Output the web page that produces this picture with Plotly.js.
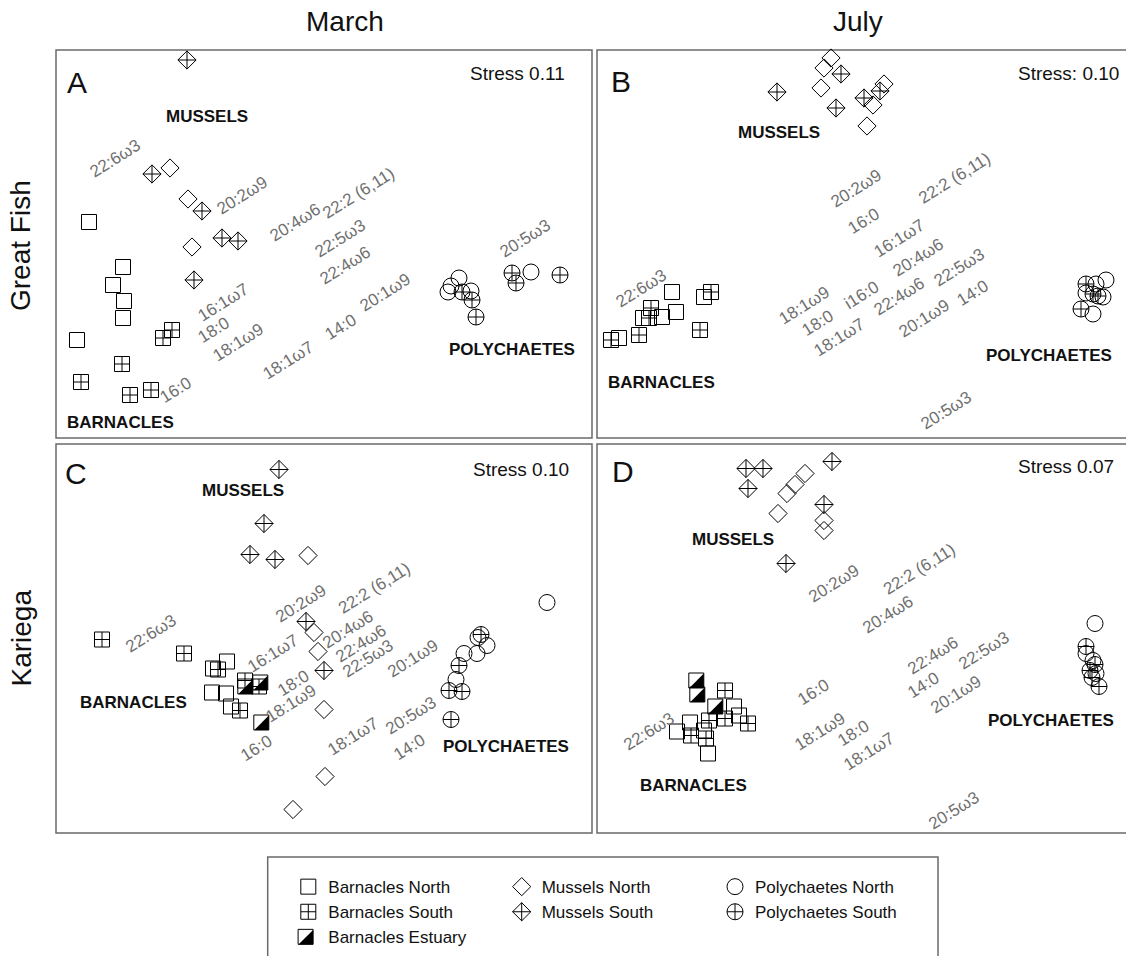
<!DOCTYPE html>
<html>
<head>
<meta charset="utf-8">
<script src="https://cdn.plot.ly/plotly-3.0.1.min.js"></script>
<style>
  html, body { margin: 0; padding: 0; background: #fff; overflow: hidden; }
  #chart { width: 1126px; height: 956px; }
</style>
</head>
<body>
<div id="chart"></div>
<script>
// nMDS ordination scores (dimensionless) of fatty-acid profiles.
// A = Great Fish / March, B = Great Fish / July, C = Kariega / March, D = Kariega / July

const A_barnaclesNorth   = [[-2.35,0.22],[-2.01,-0.23],[-2.11,-0.41],[-2.00,-0.57],[-2.01,-0.74],[-2.47,-0.96]];
const A_barnaclesSouth   = [[-1.61,-0.94],[-1.52,-0.86],[-2.02,-1.20],[-2.43,-1.38],[-1.94,-1.51],[-1.73,-1.46]];
const A_musselsNorth     = [[-1.54,0.76],[-1.36,0.45],[-1.32,-0.03]];
const A_musselsSouth     = [[-1.37,1.84],[-1.72,0.70],[-1.22,0.33],[-1.02,0.06],[-0.86,0.03],[-1.30,-0.36]];
const A_polychaetesNorth = [[1.35,-0.34],[1.27,-0.42],[1.24,-0.48],[1.47,-0.47],[2.07,-0.28]];
const A_polychaetesSouth = [[1.38,-0.48],[1.48,-0.56],[1.52,-0.73],[1.88,-0.29],[1.92,-0.39],[2.36,-0.31]];

const B_barnaclesNorth   = [[-1.93,-0.48],[-1.89,-0.68],[-2.03,-0.73],[-2.22,-0.74],[-1.61,-0.53],[-2.46,-0.94]];
const B_barnaclesSouth   = [[-2.14,-0.64],[-2.16,-0.74],[-1.54,-0.48],[-2.26,-0.91],[-1.65,-0.86],[-2.54,-0.96]];
const B_musselsNorth     = [[-0.34,1.86],[-0.41,1.76],[-0.44,1.56],[0.19,1.60],[0.08,1.39],[0.02,1.18]];
const B_musselsSouth     = [[-0.88,1.52],[-0.24,1.70],[-0.29,1.36],[-0.01,1.46],[0.15,1.53]];
const B_polychaetesNorth = [[2.41,-0.36],[2.31,-0.40],[2.38,-0.53],[2.28,-0.70],[2.21,-0.49]];
const B_polychaetesSouth = [[2.21,-0.40],[2.28,-0.50],[2.16,-0.65],[2.33,-0.52]];

const C_barnaclesNorth   = [[-0.97,-0.23],[-1.11,-0.30],[-1.12,-0.54],[-0.98,-0.55],[-0.93,-0.68]];
const C_barnaclesSouth   = [[-2.22,-0.01],[-1.40,-0.15],[-1.06,-0.31],[-0.84,-0.72],[-0.79,-0.42],[-0.65,-0.48]];
const C_barnaclesEstuary = [[-0.76,-0.48],[-0.61,-0.44],[-0.60,-0.84]];
const C_musselsNorth     = [[-0.16,0.83],[-0.10,0.06],[-0.06,-0.13],[0.00,-0.71],[0.01,-1.38],[-0.31,-1.71]];
const C_musselsSouth     = [[-0.45,1.69],[-0.60,1.15],[-0.74,0.84],[-0.49,0.79],[-0.18,0.17],[0.00,-0.32]];
const C_polychaetesNorth = [[2.23,0.36],[1.63,-0.07],[1.53,-0.15],[1.40,-0.15],[1.32,-0.41],[1.54,0.01]];
const C_polychaetesSouth = [[1.57,0.04],[1.35,-0.27],[1.25,-0.52],[1.38,-0.53],[1.27,-0.81]];

const D_barnaclesNorth   = [[-1.31,-0.68],[-1.26,-0.77],[-1.75,-0.84],[-1.88,-0.93],[-1.61,-0.92],[-1.57,-1.15]];
const D_barnaclesSouth   = [[-1.40,-0.52],[-1.40,-0.80],[-1.56,-0.82],[-1.17,-0.85],[-1.74,-0.97],[-1.59,-1.00]];
const D_barnaclesEstuary = [[-1.66,-0.42],[-1.65,-0.56],[-1.47,-0.68]];
const D_musselsNorth     = [[-0.60,1.65],[-0.70,1.54],[-0.78,1.45],[-0.87,1.25],[-0.41,1.18],[-0.41,1.08]];
const D_musselsSouth     = [[-1.19,1.70],[-1.02,1.70],[-1.17,1.50],[-0.33,1.77],[-0.41,1.34],[-0.79,0.75]];
const D_polychaetesNorth = [[2.30,0.15],[2.21,-0.15],[2.28,-0.22],[2.31,-0.35]];
const D_polychaetesSouth = [[2.21,-0.08],[2.30,-0.26],[2.25,-0.32],[2.27,-0.39],[2.34,-0.48]];

// Fatty-acid vector labels: [name, MDS1, MDS2]
const A_fattyAcids = [['22:6ω3',-2.09,0.86],['20:2ω9',-0.82,0.49],['20:4ω6',-0.29,0.22],['22:2 (6,11)',0.34,0.51],
  ['22:5ω3',0.16,0.06],['22:4ω6',0.21,-0.21],['16:1ω7',-1.01,-0.58],['18:0',-1.11,-0.86],['18:1ω9',-0.86,-0.98],
  ['14:0',0.16,-0.83],['20:1ω9',0.61,-0.48],['18:1ω7',-0.36,-1.16],['16:0',-1.49,-1.46],['20:5ω3',2.01,0.06]];
const B_fattyAcids = [['20:2ω9',-0.09,0.56],['22:2 (6,11)',0.89,0.66],['16:0',-0.02,0.23],['16:1ω7',0.34,0.06],
  ['20:4ω6',0.53,-0.13],['22:5ω3',0.94,-0.23],['22:6ω3',-2.24,-0.44],['18:1ω9',-0.61,-0.61],['i16:0',-0.04,-0.51],
  ['22:4ω6',0.34,-0.52],['14:0',1.07,-0.49],['18:0',-0.48,-0.79],['18:1ω7',-0.26,-0.93],['20:1ω9',0.59,-0.74],['20:5ω3',0.81,-1.66]];
const C_fattyAcids = [['22:6ω3',-1.73,0.05],['20:2ω9',-0.23,0.35],['22:2 (6,11)',0.50,0.50],['16:1ω7',-0.51,-0.15],
  ['20:4ω6',0.24,0.09],['22:4ω6',0.37,-0.05],['22:5ω3',0.44,-0.20],['20:1ω9',0.89,-0.20],['18:0',-0.31,-0.45],
  ['18:1ω9',-0.33,-0.65],['16:0',-0.68,-1.10],['18:1ω7',0.29,-0.98],['20:5ω3',0.87,-0.77],['14:0',0.85,-1.09]];
const D_fattyAcids = [['20:2ω9',-0.31,0.55],['22:2 (6,11)',0.54,0.69],['20:4ω6',0.23,0.24],['22:4ω6',0.68,-0.17],
  ['22:5ω3',1.19,-0.12],['14:0',0.58,-0.47],['20:1ω9',0.91,-0.56],['16:0',-0.52,-0.54],['18:1ω9',-0.45,-0.93],
  ['18:0',-0.12,-0.95],['18:1ω7',0.04,-1.13],['22:6ω3',-2.16,-0.93],['20:5ω3',0.89,-1.72]];

// Taxon group labels: [name, MDS1, MDS2]
const A_groups = [['MUSSELS',-1.17,1.28],['BARNACLES',-2.04,-1.78],['POLYCHAETES',1.88,-1.05]];
const B_groups = [['MUSSELS',-0.86,1.12],['BARNACLES',-2.04,-1.38],['POLYCHAETES',1.84,-1.11]];
const C_groups = [['MUSSELS',-0.81,1.48],['BARNACLES',-1.91,-0.64],['POLYCHAETES',1.82,-1.08]];
const D_groups = [['MUSSELS',-1.32,0.99],['BARNACLES',-1.72,-1.47],['POLYCHAETES',1.86,-0.82]];

const panelLetters = ['A', 'B', 'C', 'D'];
const stressLabels = ['Stress 0.11', 'Stress: 0.10', 'Stress 0.10', 'Stress 0.07'];
const columnTitles = ['March', 'July'];
const rowTitles = ['Great Fish', 'Kariega'];

// ---------------------------------------------------------------------------
const W = 1126, H = 956;
const fx = v => v / W;
const fy = v => 1 - v / H;
const FONT = 'Liberation Sans, Arial, Helvetica, sans-serif';

// panel frames in page pixels [left, top, right, bottom]; B and D run off the right edge
const frames = [[56, 50, 592, 438], [597, 50, 1133, 438], [56, 444, 592, 833], [597, 444, 1133, 833]];

const panelData = [
  { barnaclesNorth: A_barnaclesNorth, barnaclesSouth: A_barnaclesSouth, musselsNorth: A_musselsNorth,
    musselsSouth: A_musselsSouth, polychaetesNorth: A_polychaetesNorth, polychaetesSouth: A_polychaetesSouth,
    fa: A_fattyAcids, groups: A_groups },
  { barnaclesNorth: B_barnaclesNorth, barnaclesSouth: B_barnaclesSouth, musselsNorth: B_musselsNorth,
    musselsSouth: B_musselsSouth, polychaetesNorth: B_polychaetesNorth, polychaetesSouth: B_polychaetesSouth,
    fa: B_fattyAcids, groups: B_groups },
  { barnaclesNorth: C_barnaclesNorth, barnaclesSouth: C_barnaclesSouth, barnaclesEstuary: C_barnaclesEstuary,
    musselsNorth: C_musselsNorth, musselsSouth: C_musselsSouth, polychaetesNorth: C_polychaetesNorth,
    polychaetesSouth: C_polychaetesSouth, fa: C_fattyAcids, groups: C_groups },
  { barnaclesNorth: D_barnaclesNorth, barnaclesSouth: D_barnaclesSouth, barnaclesEstuary: D_barnaclesEstuary,
    musselsNorth: D_musselsNorth, musselsSouth: D_musselsSouth, polychaetesNorth: D_polychaetesNorth,
    polychaetesSouth: D_polychaetesSouth, fa: D_fattyAcids, groups: D_groups }
];

const seriesOrder = [
  { key: 'barnaclesNorth',   name: 'Barnacles North',   symbol: 'square-open',        size: 15, legend: 'legend' },
  { key: 'barnaclesSouth',   name: 'Barnacles South',   symbol: 'square-cross-open',  size: 15, legend: 'legend' },
  { key: 'barnaclesEstuary', name: 'Barnacles Estuary', estuary: true },
  { key: 'musselsNorth',     name: 'Mussels North',     symbol: 'diamond-open',       size: 14, legend: 'legend2' },
  { key: 'musselsSouth',     name: 'Mussels South',     symbol: 'diamond-cross-open', size: 14, legend: 'legend2' },
  { key: 'polychaetesNorth', name: 'Polychaetes North', symbol: 'circle-open',        size: 16, legend: 'legend3' },
  { key: 'polychaetesSouth', name: 'Polychaetes South', symbol: 'circle-cross-open',  size: 16, legend: 'legend3' }
];

const traces = [];
const annotations = [];
const shapes = [];
const layout = {
  width: W, height: H,
  margin: { l: 0, r: 0, t: 0, b: 0 },
  paper_bgcolor: '#fff', plot_bgcolor: 'rgba(0,0,0,0)',
  showlegend: true,
  font: { family: FONT, color: '#111' }
};
const shown = {};

panelData.forEach((pd, i) => {
  const n = i === 0 ? '' : String(i + 1);
  const xa = 'x' + n, ya = 'y' + n;
  const [l, t, r, b] = frames[i];
  const cx = (l + r) / 2, cy = (t + b) / 2;
  const rightPx = Math.min(r, W);
  layout['xaxis' + n] = {
    domain: [fx(l), fx(rightPx)], range: [(l - cx) / 100, (rightPx - cx) / 100],
    visible: false, fixedrange: true, anchor: ya
  };
  layout['yaxis' + n] = {
    domain: [fy(b), fy(t)], range: [(cy - b) / 100, (cy - t) / 100],
    visible: false, fixedrange: true, anchor: xa
  };

  // frame
  shapes.push({ type: 'rect', xref: 'paper', yref: 'paper', x0: fx(l), x1: fx(r), y0: fy(b), y1: fy(t),
    line: { color: '#6a6a6a', width: 1.5 }, fillcolor: 'rgba(0,0,0,0)', layer: 'below' });

  // fatty-acid labels
  pd.fa.forEach(([txt, x, y]) => annotations.push({
    xref: xa, yref: ya, x, y, text: txt, showarrow: false, textangle: -32,
    xanchor: 'center', yanchor: 'middle',
    font: { family: FONT, size: 17, color: '#707070' }
  }));

  // taxon group labels
  pd.groups.forEach(([txt, x, y]) => annotations.push({
    xref: xa, yref: ya, x, y, text: '<b>' + txt + '</b>', showarrow: false,
    xanchor: 'center', yanchor: 'middle',
    font: { family: FONT, size: 17, color: '#111' }
  }));

  // markers
  seriesOrder.forEach(s => {
    const pts = pd[s.key];
    if (!pts) return;
    const first = !shown[s.key];
    shown[s.key] = true;
    const xs = pts.map(p => p[0]), ys = pts.map(p => p[1]);
    if (s.estuary) {
      // half-filled square: black lower-right triangle under a square outline
      traces.push({
        type: 'scatter', mode: 'markers', x: xs, y: ys, xaxis: xa, yaxis: ya, cliponaxis: false,
        name: s.name, showlegend: false,
        marker: { symbol: 'triangle-se', size: 16, color: '#000', standoff: 2.7, line: { width: 0 } }
      });
      traces.push({
        type: 'scatter', mode: 'markers', x: xs, y: ys, xaxis: xa, yaxis: ya, cliponaxis: false,
        name: s.name, showlegend: false,
        marker: { symbol: 'square-open', size: 15, color: '#000', angle: 90, standoff: 2.7, line: { width: 1 } }
      });
      if (first) {
        // legend keys (legend icons flip the standoff direction, so the rotations differ)
        traces.push({
          type: 'scatter', mode: 'markers', x: [null], y: [null], xaxis: xa, yaxis: ya,
          name: s.name, legend: 'legend', showlegend: true,
          marker: { symbol: 'square-open', size: 15, color: '#000', angle: 270, standoff: 2.7, line: { width: 1 } }
        });
        traces.push({
          type: 'scatter', mode: 'markers', x: [null], y: [null], xaxis: xa, yaxis: ya,
          name: ' ', legend: 'legend4', showlegend: true,
          marker: { symbol: 'triangle-nw', size: 16, color: '#000', angle: 180, standoff: 2.7, line: { width: 0 } }
        });
      }
    } else {
      traces.push({
        type: 'scatter', mode: 'markers', x: xs, y: ys, xaxis: xa, yaxis: ya, cliponaxis: false,
        name: s.name, legend: s.legend, showlegend: first,
        marker: { symbol: s.symbol, size: s.size, color: '#000', line: { width: 1 } }
      });
    }
  });
});

// panel letters and stress values
const letterPos = [[76.7, 82.3], [621, 81.7], [76, 473.3], [622.7, 471.7]];
const stressPos = [[566.7, 73.3], [1121, 73.3], [571, 469.3], [1116, 466.7]];
panelLetters.forEach((L, i) => {
  annotations.push({ xref: 'paper', yref: 'paper', x: fx(letterPos[i][0]), y: fy(letterPos[i][1]),
    xanchor: 'center', yanchor: 'middle',
    text: L, showarrow: false, font: { family: FONT, size: 30, color: '#111' } });
  annotations.push({ xref: 'paper', yref: 'paper', x: fx(stressPos[i][0]), y: fy(stressPos[i][1]),
    xanchor: 'right', yanchor: 'middle',
    text: stressLabels[i], showarrow: false, font: { family: FONT, size: 19, color: '#111' } });
});

// column and row titles
[[345, 22], [858, 22]].forEach((p, i) => annotations.push({
  xref: 'paper', yref: 'paper', x: fx(p[0]), y: fy(p[1]), xanchor: 'center', yanchor: 'middle',
  text: columnTitles[i], showarrow: false, font: { family: FONT, size: 28, color: '#111' } }));
[[21, 246], [21, 638.5]].forEach((p, i) => annotations.push({
  xref: 'paper', yref: 'paper', x: fx(p[0]), y: fy(p[1]), xanchor: 'center', yanchor: 'middle',
  text: rowTitles[i], showarrow: false, textangle: -90,
  font: { family: FONT, size: 28, color: '#111' } }));

// legend frame
shapes.push({ type: 'rect', xref: 'paper', yref: 'paper', x0: fx(267.7), x1: fx(938), y0: fy(962), y1: fy(857),
  line: { color: '#6a6a6a', width: 1.5 }, fillcolor: 'rgba(0,0,0,0)' });

const legendBase = {
  bgcolor: 'rgba(0,0,0,0)', borderwidth: 0, orientation: 'v', xanchor: 'left', yanchor: 'top',
  tracegroupgap: 0, itemclick: false, itemdoubleclick: false,
  font: { family: FONT, size: 17, color: '#111' }
};
const legendTop = 869.1, legendRow = 1.3 * 17 + 3;
layout.legend  = Object.assign({}, legendBase, { x: fx(288.3), y: fy(legendTop) });
layout.legend2 = Object.assign({}, legendBase, { x: fx(501.7), y: fy(legendTop) });
layout.legend3 = Object.assign({}, legendBase, { x: fx(715), y: fy(legendTop) });
layout.legend4 = Object.assign({}, legendBase, { x: fx(288.3), y: fy(legendTop + 2 * legendRow) });

layout.shapes = shapes;
layout.annotations = annotations;

Plotly.newPlot('chart', traces, layout, { displayModeBar: false, staticPlot: true });
</script>
</body>
</html>
